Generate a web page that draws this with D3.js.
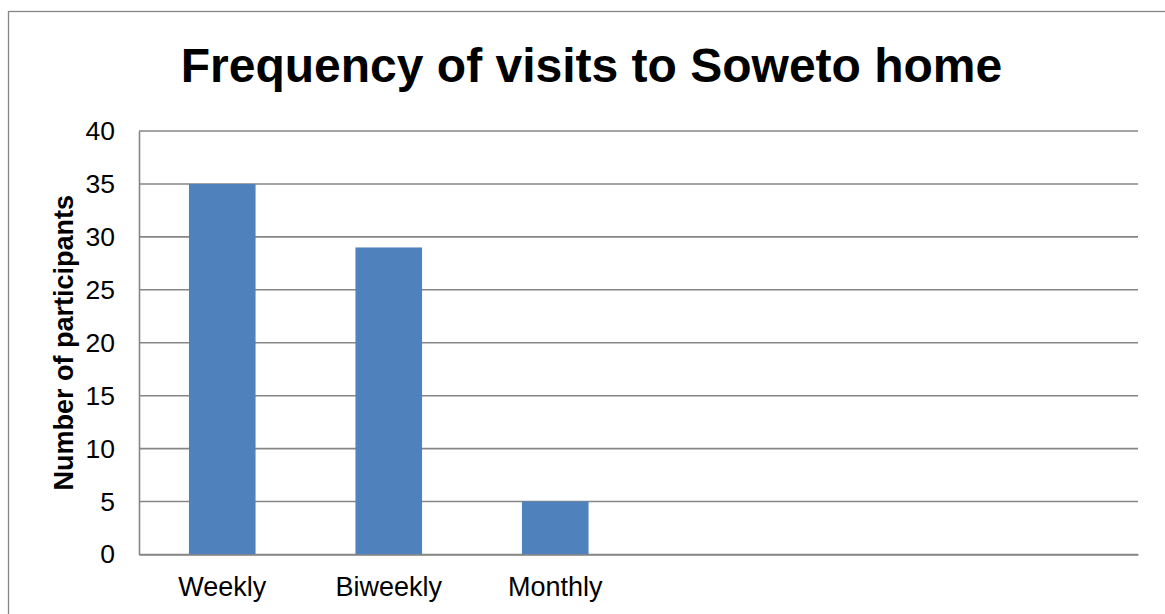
<!DOCTYPE html>
<html>
<head>
<meta charset="utf-8">
<script src="https://cdn.jsdelivr.net/npm/d3@7"></script>
<style>
  html, body { margin: 0; padding: 0; background: #ffffff; }
  svg { display: block; }
  text { font-family: "Liberation Sans", Arial, sans-serif; fill: #000; }
</style>
</head>
<body>
<svg id="chart" width="1165" height="614"></svg>
<script>
// Survey responses: how often participants visit their Soweto home
const categories = ["Weekly", "Biweekly", "Monthly"];
const participants = [35, 29, 5];
// The category axis reserves six slots; only the first three hold data
const slotLabels = ["Weekly", "Biweekly", "Monthly", "", "", ""];
const yTicks = [0, 5, 10, 15, 20, 25, 30, 35, 40];
const yMax = 40;

const svg = d3.select("#chart");
const W = 1165, H = 614;
const plot = { left: 139, right: 1138, top: 131, bottom: 554.5 };
const gridColor = "#868686";
const barColor = "#4F81BD";

// Outer chart frame
svg.append("rect")
  .attr("x", 8.5).attr("y", 11.5)
  .attr("width", W + 20).attr("height", H + 20)
  .attr("fill", "#fff")
  .attr("stroke", gridColor).attr("stroke-width", 1.3);

const x = d3.scaleBand()
  .domain(d3.range(slotLabels.length))
  .range([plot.left, plot.right])
  .paddingInner(0.6)
  .paddingOuter(0.3);

const y = d3.scaleLinear()
  .domain([0, yMax])
  .range([plot.bottom, plot.top]);

// Horizontal gridlines
svg.append("g")
  .selectAll("line")
  .data(yTicks)
  .join("line")
  .attr("x1", plot.left).attr("x2", plot.right)
  .attr("y1", d => y(d)).attr("y2", d => y(d))
  .attr("stroke", gridColor).attr("stroke-width", 1.6);

// Bars
svg.append("g")
  .selectAll("rect")
  .data(participants)
  .join("rect")
  .attr("x", (d, i) => x(i))
  .attr("width", x.bandwidth())
  .attr("y", d => y(d))
  .attr("height", d => y(0) - y(d))
  .attr("fill", barColor);

// Value axis
const yAxis = svg.append("g")
  .attr("transform", `translate(${plot.left},0)`)
  .call(d3.axisLeft(y).tickValues(yTicks).tickSize(0).tickPadding(24));
yAxis.select(".domain").attr("stroke", gridColor).attr("stroke-width", 1.6);
yAxis.selectAll("text")
  .style("font-family", "'Liberation Sans', Arial, sans-serif")
  .style("font-size", "26.5px")
  .attr("fill", "#000");

// Category axis
const xBand = d3.scaleBand()
  .domain(slotLabels.map((d, i) => i))
  .range([plot.left, plot.right]);
const xAxis = svg.append("g")
  .attr("transform", `translate(0,${plot.bottom})`)
  .call(d3.axisBottom(xBand)
    .tickSize(0)
    .tickPadding(22)
    .tickFormat(i => slotLabels[i]));
xAxis.select(".domain").attr("stroke", gridColor).attr("stroke-width", 1.6);
xAxis.selectAll("text")
  .style("font-family", "'Liberation Sans', Arial, sans-serif")
  .style("font-size", "27px")
  .attr("fill", "#000");

// Axis title
svg.append("text")
  .attr("transform", `translate(73,${(plot.top + plot.bottom) / 2}) rotate(-90)`)
  .attr("text-anchor", "middle")
  .style("font-size", "27px")
  .style("font-weight", "bold")
  .text("Number of participants");

// Chart title
svg.append("text")
  .attr("x", 591.5).attr("y", 82)
  .attr("text-anchor", "middle")
  .style("font-size", "48px")
  .style("font-weight", "bold")
  .text("Frequency of visits to Soweto home");
</script>
</body>
</html>
